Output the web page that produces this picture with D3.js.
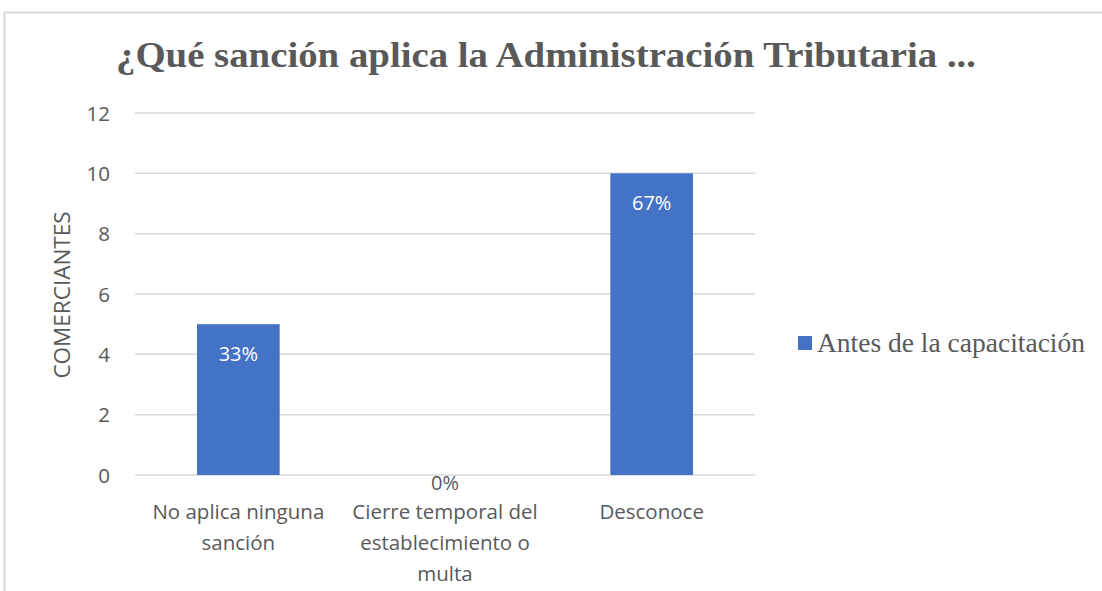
<!DOCTYPE html>
<html><head><meta charset="utf-8">
<script src="https://cdn.jsdelivr.net/npm/d3@7"></script>
<style>body{margin:0;background:#fff;} svg{display:block;}</style>
</head><body>
<svg id="c" width="1102" height="591"></svg>
<script>
const categories = [["No aplica ninguna","sanción"],["Cierre temporal del","establecimiento o","multa"],["Desconoce"]];
const values = [5, 0, 10];
const labels = ["33%", "0%", "67%"];
const yTicks = [0, 2, 4, 6, 8, 10, 12];
const seriesName = "Antes de la capacitación";
const title = "¿Qué sanción aplica la Administración Tributaria ...";

const FONT = "'Open Sans', sans-serif";
const svg = d3.select("#c");
// chart border
svg.append("path").attr("d","M4.5,591 V12.5 H1102").attr("fill","none").attr("stroke","#d9d9d9").attr("stroke-width",2);

const x = d3.scaleBand().domain(d3.range(categories.length)).range([135,755]).paddingInner(0.6).paddingOuter(0.3);
const y = d3.scaleLinear().domain([0,12]).range([475,113]);

// grid
svg.append("g").selectAll("line").data(yTicks).join("line")
  .attr("x1",135).attr("x2",755).attr("y1",d=>y(d)).attr("y2",d=>y(d))
  .attr("stroke","#d9d9d9").attr("stroke-width",1.5);

// y axis labels
const yAxis = d3.axisLeft(y).tickValues(yTicks).tickSize(0).tickPadding(0);
const ga = svg.append("g").attr("transform","translate(110,0)").call(yAxis);
ga.select(".domain").remove();
ga.selectAll("text").attr("font-family",FONT).attr("font-size",20.5).attr("fill","#595959").attr("dy","0.35em");

// bars
svg.append("g").selectAll("rect").data(values).join("rect")
  .attr("x",(d,i)=>x(i)).attr("width",x.bandwidth())
  .attr("y",d=>y(d)).attr("height",d=>y(0)-y(d)).attr("fill","#4472C4");

// data labels
svg.append("g").selectAll("text").data(values).join("text")
  .attr("x",(d,i)=>x(i)+x.bandwidth()/2)
  .attr("y",d=> d>0 ? y(d)+37 : y(0)+15)
  .attr("text-anchor","middle").attr("font-family",FONT).attr("font-size",20)
  .attr("fill",d=> d>0 ? "#ffffff" : "#595959")
  .text((d,i)=>labels[i]);

// category labels
const cg = svg.append("g").selectAll("text").data(categories).join("text")
  .attr("text-anchor","middle").attr("font-family",FONT).attr("font-size",20.5).attr("fill","#595959");
cg.selectAll("tspan").data((d,i)=>d.map(s=>({s,i}))).join("tspan")
  .attr("x",d=>x(d.i)+x.bandwidth()/2)
  .attr("y",(d,j)=>519+j*31)
  .text(d=>d.s);

// y title
svg.append("text").attr("transform","translate(70,295) rotate(-90)").attr("text-anchor","middle")
  .attr("font-family",FONT).attr("font-size",22.5).attr("fill","#595959").text("COMERCIANTES");

// title
svg.append("text").attr("x",116).attr("y",67).attr("textLength",860).attr("lengthAdjust","spacingAndGlyphs")
  .attr("font-family","'Liberation Serif', serif").attr("font-weight","bold").attr("font-size",36).attr("fill","#595959").text(title);

// legend
svg.append("rect").attr("x",798).attr("y",336).attr("width",14).attr("height",14).attr("fill","#4472C4");
svg.append("text").attr("x",817).attr("y",352).attr("font-family","'Liberation Serif', serif").attr("font-size",27.5).attr("fill","#595959").text(seriesName);
</script>
</body></html>
